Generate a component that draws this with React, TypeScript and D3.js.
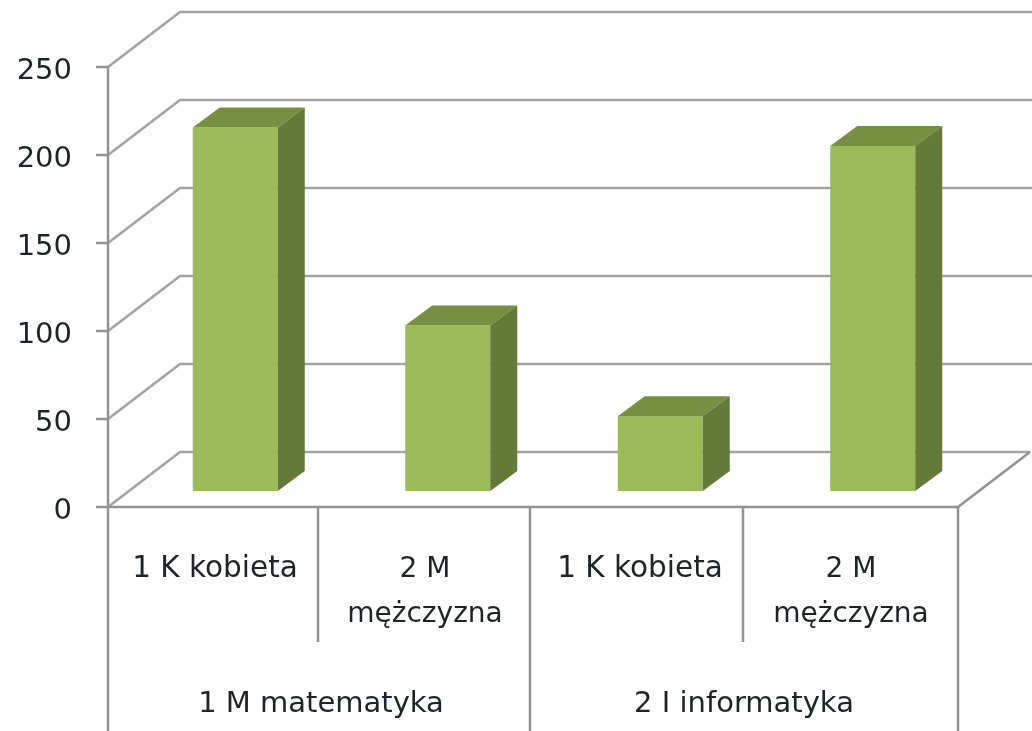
import React from "react";
import * as d3 from "d3";

const categories = ["1 K kobieta", "2 M mężczyzna", "1 K kobieta", "2 M mężczyzna"];
const values = [206.5, 94, 42.5, 196];
const ticks = [0, 50, 100, 150, 200, 250];
const groups = ["1 M matematyka", "2 I informatyka"];

const grid = "#a3a3a3";
const axisC = "#929292";
const ink = "#1f2328";
const font = "'DejaVu Sans', sans-serif";

export default function App() {
  const x0 = 108, x1 = 958, dx = 72, dy = 55;
  const base = 507;
  const y = d3.scaleLinear().domain([0, 250]).range([base, 67]);
  const band = d3.scaleBand<number>().domain([0, 1, 2, 3]).range([x0, x1]);
  const w = 85, ddx = 27, ddy = 20;
  const barBase = 491;
  const yb = d3.scaleLinear().domain([0, 250]).range([barBase, barBase - (base - 67)]);
  const catX = [215, 425, 640, 851];
  const catSize = [29.5, 28, 29.5, 28];
  const groupX = [321, 744];
  return (
    <svg width={1032} height={731} style={{ position: "absolute", left: 0, top: 0, background: "#fff", filter: "blur(0.6px)" }} fontFamily={font}>
      {ticks.map((t) => {
        const Y = y(t);
        return (
          <g key={t}>
            <path d={`M${x0},${Y}L${x0 + dx},${Y - dy}L${t === 0 ? x1 + dx : 1032},${Y - dy}`} fill="none" stroke={grid} strokeWidth={2.5} />
            <line x1={x0 - 12} x2={x0} y1={Y} y2={Y} stroke={axisC} strokeWidth={2.5} />
            <text x={72} y={Y + 12} fontSize={29} textAnchor="end" fill={ink}>{t}</text>
          </g>
        );
      })}
      <line x1={x0} x2={x0} y1={y(250)} y2={731} stroke={axisC} strokeWidth={2.5} />
      <path d={`M${x0},${base}L${x1},${base}L${x1 + dx},${base - dy}`} fill="none" stroke={axisC} strokeWidth={2.5} />
      <line x1={318} x2={318} y1={base} y2={642} stroke={axisC} strokeWidth={2.5} />
      <line x1={530} x2={530} y1={base} y2={731} stroke={axisC} strokeWidth={2.5} />
      <line x1={743} x2={743} y1={base} y2={642} stroke={axisC} strokeWidth={2.5} />
      <line x1={x1} x2={x1} y1={base} y2={731} stroke={axisC} strokeWidth={2.5} />
      {values.map((v, i) => {
        const cx = band(i)! + band.bandwidth() / 2 + 21;
        const l = cx - w / 2;
        const r = l + w;
        const top = yb(v);
        return (
          <g key={i}>
            <rect x={l} y={top} width={w} height={barBase - top} fill="#9bbb59" />
            <polygon points={`${l},${top} ${l + ddx},${top - ddy} ${r + ddx},${top - ddy} ${r},${top}`} fill="#768f41" />
            <polygon points={`${r},${top} ${r + ddx},${top - ddy} ${r + ddx},${barBase - ddy} ${r},${barBase}`} fill="#647a38" />
          </g>
        );
      })}
      {categories.map((c, i) => {
        const parts = c.startsWith("2 M") ? ["2 M", "mężczyzna"] : [c];
        return (
          <text key={i} textAnchor="middle" fontSize={catSize[i]} fill={ink}>
            {parts.map((p, j) => (
              <tspan key={j} x={catX[i]} y={577 + j * 45}>{p}</tspan>
            ))}
          </text>
        );
      })}
      {groups.map((g, i) => (
        <text key={g} x={groupX[i]} y={712} textAnchor="middle" fontSize={29} fill={ink}>{g}</text>
      ))}
    </svg>
  );
}
